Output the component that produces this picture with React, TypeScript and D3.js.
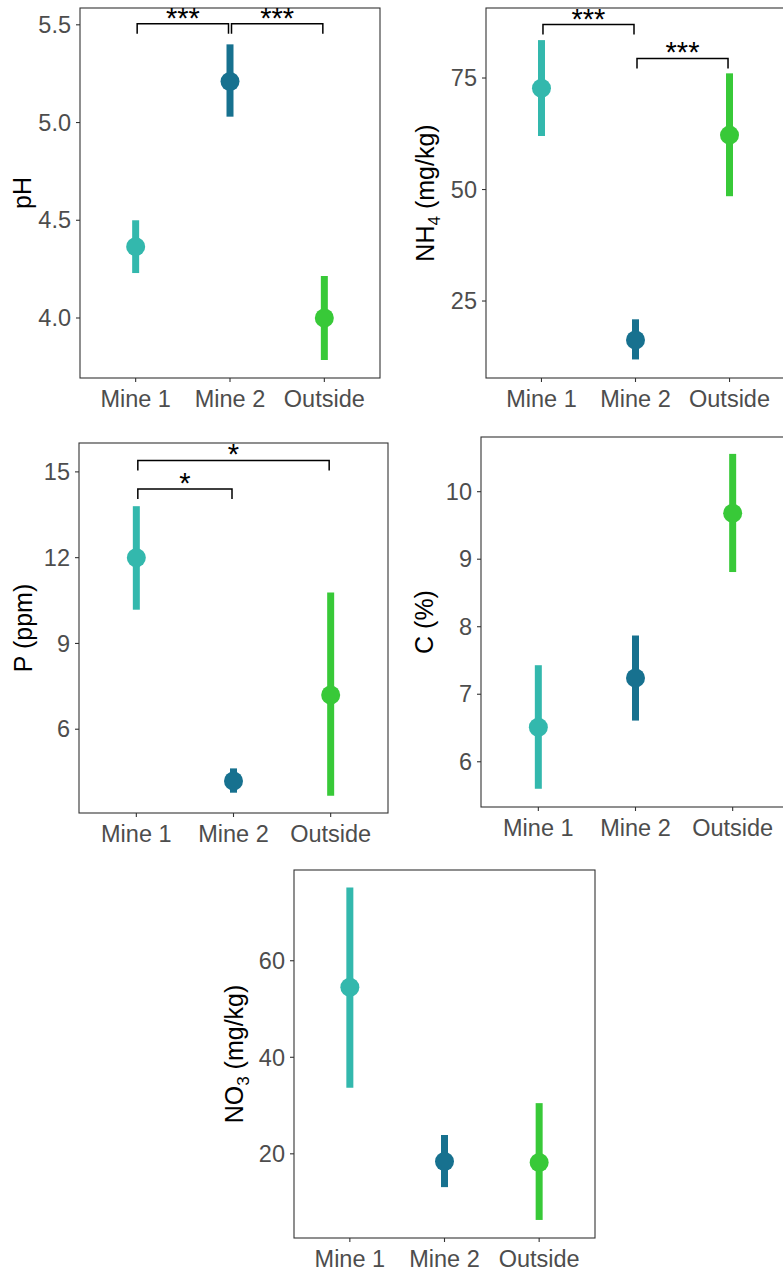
import React from "react";
import * as d3 from "d3";

const groups = ["Mine 1", "Mine 2", "Outside"];
const groupColors = ["#33b8ad", "#17718f", "#38c938"];

const phMean = [4.365, 5.21, 4.0];
const phLow = [4.23, 5.03, 3.785];
const phHigh = [4.5, 5.4, 4.215];
const phTicks = [4.0, 4.5, 5.0, 5.5];

const nh4Mean = [72.7, 16.25, 62.2];
const nh4Low = [62.0, 11.9, 48.5];
const nh4High = [83.5, 20.9, 76.05];
const nh4Ticks = [25, 50, 75];

const pMean = [12.0, 4.19, 7.2];
const pLow = [10.18, 3.78, 3.67];
const pHigh = [13.8, 4.63, 10.78];
const pTicks = [6, 9, 12, 15];

const cMean = [6.51, 7.24, 9.68];
const cLow = [5.6, 6.61, 8.81];
const cHigh = [7.43, 7.87, 10.56];
const cTicks = [6, 7, 8, 9, 10];

const no3Mean = [54.5, 18.4, 18.2];
const no3Low = [33.7, 13.1, 6.3];
const no3High = [75.2, 23.9, 30.5];
const no3Ticks = [20, 40, 60];

const phSig = [
  { from: "Mine 1", to: "Mine 2", y: 5.505, label: "***" },
  { from: "Mine 2", to: "Outside", y: 5.505, label: "***" },
];
const nh4Sig = [
  { from: "Mine 1", to: "Mine 2", y: 87.0, label: "***" },
  { from: "Mine 2", to: "Outside", y: 79.4, label: "***" },
];
const pSig = [
  { from: "Mine 1", to: "Mine 2", y: 14.4, label: "*" },
  { from: "Mine 1", to: "Outside", y: 15.4, label: "*" },
];

type Sig = { from: string; to: string; y: number; label: string };

const FONT = "'Liberation Sans', Arial, Helvetica, sans-serif";
const TICK_FS = 23.5;
const TITLE_FS = 25;

function Panel(props: {
  left: number;
  top: number;
  right: number;
  bottom: number;
  domain: [number, number];
  ticks: number[];
  tickFmt?: (v: number) => string;
  mean: number[];
  low: number[];
  high: number[];
  title: React.ReactNode;
  titleX: number;
  sig?: Sig[];
}) {
  const { left, top, right, bottom, domain, ticks, mean, low, high, title, titleX, sig } = props;
  const fmt = props.tickFmt || ((v: number) => String(v));
  const x = d3.scalePoint<string>().domain(groups).range([left, right]).padding(0.59);
  const y = d3.scaleLinear().domain(domain).range([bottom, top]);
  const cy = (top + bottom) / 2;
  return (
    <g>
      <rect x={left} y={top} width={right - left} height={bottom - top} fill="white" stroke="#333" strokeWidth={1.1} />
      {ticks.map((t) => (
        <g key={"yt" + t}>
          <line x1={left - 4} x2={left} y1={y(t)} y2={y(t)} stroke="#333" strokeWidth={1.1} />
          <text x={left - 9} y={y(t)} dy="0.35em" textAnchor="end" fontSize={TICK_FS} fill="#4d4d4d" fontFamily={FONT}>
            {fmt(t)}
          </text>
        </g>
      ))}
      {groups.map((g) => (
        <g key={"xt" + g}>
          <line x1={x(g)} x2={x(g)} y1={bottom} y2={bottom + 4} stroke="#333" strokeWidth={1.1} />
          <text x={x(g)} y={bottom + 29} textAnchor="middle" fontSize={TICK_FS} fill="#4d4d4d" fontFamily={FONT}>
            {g}
          </text>
        </g>
      ))}
      <text
        transform={`translate(${titleX},${cy}) rotate(-90)`}
        textAnchor="middle"
        dy="0.35em"
        fontSize={TITLE_FS}
        fill="#000"
        fontFamily={FONT}
      >
        {title}
      </text>
      {groups.map((g, i) => (
        <g key={"pt" + g}>
          <line x1={x(g)} x2={x(g)} y1={y(low[i])} y2={y(high[i])} stroke={groupColors[i]} strokeWidth={7} />
          <circle cx={x(g)} cy={y(mean[i])} r={9.5} fill={groupColors[i]} />
        </g>
      ))}
      {(sig || []).map((s, i) => {
        const x1 = (x(s.from) as number) + 1.5;
        const x2 = (x(s.to) as number) - 1.5;
        const yy = y(s.y);
        return (
          <g key={"sig" + i}>
            <path d={`M${x1},${yy + 10}V${yy}H${x2}V${yy + 10}`} fill="none" stroke="#000" strokeWidth={1.5} />
            <text x={(x1 + x2) / 2} y={yy + 4} textAnchor="middle" fontSize={29} fill="#000" fontFamily={FONT}>
              {s.label}
            </text>
          </g>
        );
      })}
    </g>
  );
}

export default function App() {
  return (
    <svg
      width={783}
      height={1272}
      style={{ position: "absolute", left: 0, top: 0, background: "white" }}
      xmlns="http://www.w3.org/2000/svg"
    >
      <rect x={0} y={0} width={783} height={1272} fill="white" />
      <Panel
        left={80}
        top={8}
        right={380}
        bottom={378}
        domain={[3.693, 5.586]}
        ticks={phTicks}
        tickFmt={(v) => v.toFixed(1)}
        mean={phMean}
        low={phLow}
        high={phHigh}
        title="pH"
        titleX={22}
        sig={phSig}
      />
      <Panel
        left={486}
        top={8}
        right={785}
        bottom={378}
        domain={[7.74, 90.7]}
        ticks={nh4Ticks}
        mean={nh4Mean}
        low={nh4Low}
        high={nh4High}
        title={
          <>
            <tspan>NH</tspan>
            <tspan fontSize={17} dy="6">4</tspan>
            <tspan dy="-6"> (mg/kg)</tspan>
          </>
        }
        titleX={425}
        sig={nh4Sig}
      />
      <Panel
        left={79}
        top={443}
        right={388}
        bottom={813}
        domain={[3.07, 16.01]}
        ticks={pTicks}
        mean={pMean}
        low={pLow}
        high={pHigh}
        title="P (ppm)"
        titleX={23}
        sig={pSig}
      />
      <Panel
        left={481}
        top={437}
        right={790}
        bottom={807}
        domain={[5.33, 10.81]}
        ticks={cTicks}
        mean={cMean}
        low={cLow}
        high={cHigh}
        title="C (%)"
        titleX={424}
      />
      <Panel
        left={294}
        top={870}
        right={595}
        bottom={1238}
        domain={[2.56, 78.8]}
        ticks={no3Ticks}
        mean={no3Mean}
        low={no3Low}
        high={no3High}
        title={
          <>
            <tspan>NO</tspan>
            <tspan fontSize={17} dy="6">3</tspan>
            <tspan dy="-6"> (mg/kg)</tspan>
          </>
        }
        titleX={234}
      />
    </svg>
  );
}
